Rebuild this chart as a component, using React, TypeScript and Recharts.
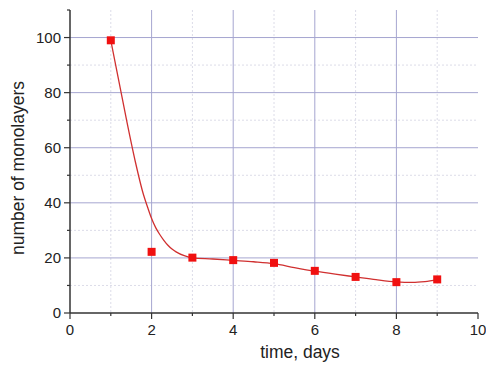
import {
  ComposedChart,
  Line,
  Scatter,
  XAxis,
  YAxis,
  CartesianGrid,
  Label,
} from "recharts";

// measured points
const days = [1, 2, 3, 4, 5, 6, 7, 8, 9];
const monolayers = [99, 22.2, 20.1, 19.2, 18.2, 15.3, 13.1, 11.2, 12.2];

// fitted curve
const curveX = [1, 1.2, 1.4, 1.6, 1.8, 1.9, 2, 2.1, 2.2, 2.3, 2.4, 2.5, 2.6, 2.8, 3, 3.5, 4, 4.5, 5, 5.5, 6, 6.5, 7, 7.5, 8, 8.4, 8.7, 9];
const curveY = [99, 84, 69, 55, 43, 38.5, 34.3, 31, 28.5, 26.4, 24.6, 23.2, 22.2, 20.8, 20, 19.6, 19.1, 18.6, 17.9, 16.5, 15.2, 14.1, 13.1, 12.1, 11.3, 11.1, 11.4, 12];

const xTicks = [0, 1, 2, 3, 4, 5, 6, 7, 8, 9, 10];
const yTicks = [0, 10, 20, 30, 40, 50, 60, 70, 80, 90, 100, 110];
const xMajorGrid = [2, 4, 6, 8];
const xMinorGrid = [1, 3, 5, 7, 9];
const yMajorGrid = [20, 40, 60, 80, 100];
const yMinorGrid = [10, 30, 50, 70, 90];

const points = days.map((d, i) => ({ x: d, y: monolayers[i] }));
const curve = curveX.map((d, i) => ({ x: d, y: curveY[i] }));

const FONT = "Arial, 'Liberation Sans', sans-serif";
const AXIS = "#333";

function YTick({ x, y, payload }: any) {
  const major = payload.value % 20 === 0;
  return (
    <g>
      <line x1={x - (major ? 6 : 3)} x2={x} y1={y} y2={y} stroke={AXIS} strokeWidth={1.2} />
      {major && payload.value <= 100 && (
        <text x={x - 9} y={y} dy="0.36em" textAnchor="end" fontSize={15} fill="#222" fontFamily={FONT}>
          {payload.value}
        </text>
      )}
    </g>
  );
}

function XTick({ x, y, payload }: any) {
  const major = payload.value % 2 === 0;
  return (
    <g>
      <line x1={x} x2={x} y1={y} y2={y + (major ? 6 : 3)} stroke={AXIS} strokeWidth={1.2} />
      {major && (
        <text x={x} y={y + 22} textAnchor="middle" fontSize={15} fill="#222" fontFamily={FONT}>
          {payload.value}
        </text>
      )}
    </g>
  );
}

const Square = ({ cx, cy }: any) => <rect x={cx - 4} y={cy - 4} width={8} height={8} fill="#f01010" />;

export default function App() {
  return (
    <div style={{ position: "absolute", left: 0, top: 0, background: "#fff" }}>
      <ComposedChart width={486} height={367} margin={{ top: 10, right: 8, left: 0, bottom: 0 }}>
        <CartesianGrid
          horizontalValues={yMinorGrid}
          verticalValues={xMinorGrid}
          stroke="#dcdce8"
          strokeDasharray="2 2"
        />
        <CartesianGrid horizontalValues={yMajorGrid} verticalValues={xMajorGrid} stroke="#a6a6d0" />
        <XAxis
          type="number"
          dataKey="x"
          domain={[0, 10]}
          ticks={xTicks}
          interval={0}
          height={54}
          tickSize={0}
          tickMargin={0}
          tick={<XTick />}
          axisLine={{ stroke: AXIS, strokeWidth: 1.5 }}
          tickLine={false}
        >
          <Label
            content={() => (
              <text x={300} y={358} textAnchor="middle" fontSize={17.5} fill="#222" fontFamily={FONT}>
                time, days
              </text>
            )}
          />
        </XAxis>
        <YAxis
          type="number"
          dataKey="y"
          domain={[0, 110]}
          ticks={yTicks}
          interval={0}
          width={70}
          tickSize={0}
          tickMargin={0}
          tick={<YTick />}
          axisLine={{ stroke: AXIS, strokeWidth: 1.5 }}
          tickLine={false}
        >
          <Label
            content={() => (
              <text
                x={24}
                y={168}
                transform="rotate(-90 24 168)"
                textAnchor="middle"
                fontSize={17.5}
                fill="#222"
                fontFamily={FONT}
              >
                number of monolayers
              </text>
            )}
          />
        </YAxis>
        <Line
          data={curve}
          dataKey="y"
          type="monotone"
          stroke="#d03030"
          strokeWidth={1.3}
          dot={false}
          activeDot={false}
          isAnimationActive={false}
        />
        <Scatter data={points} dataKey="y" shape={<Square />} isAnimationActive={false} />
      </ComposedChart>
    </div>
  );
}
